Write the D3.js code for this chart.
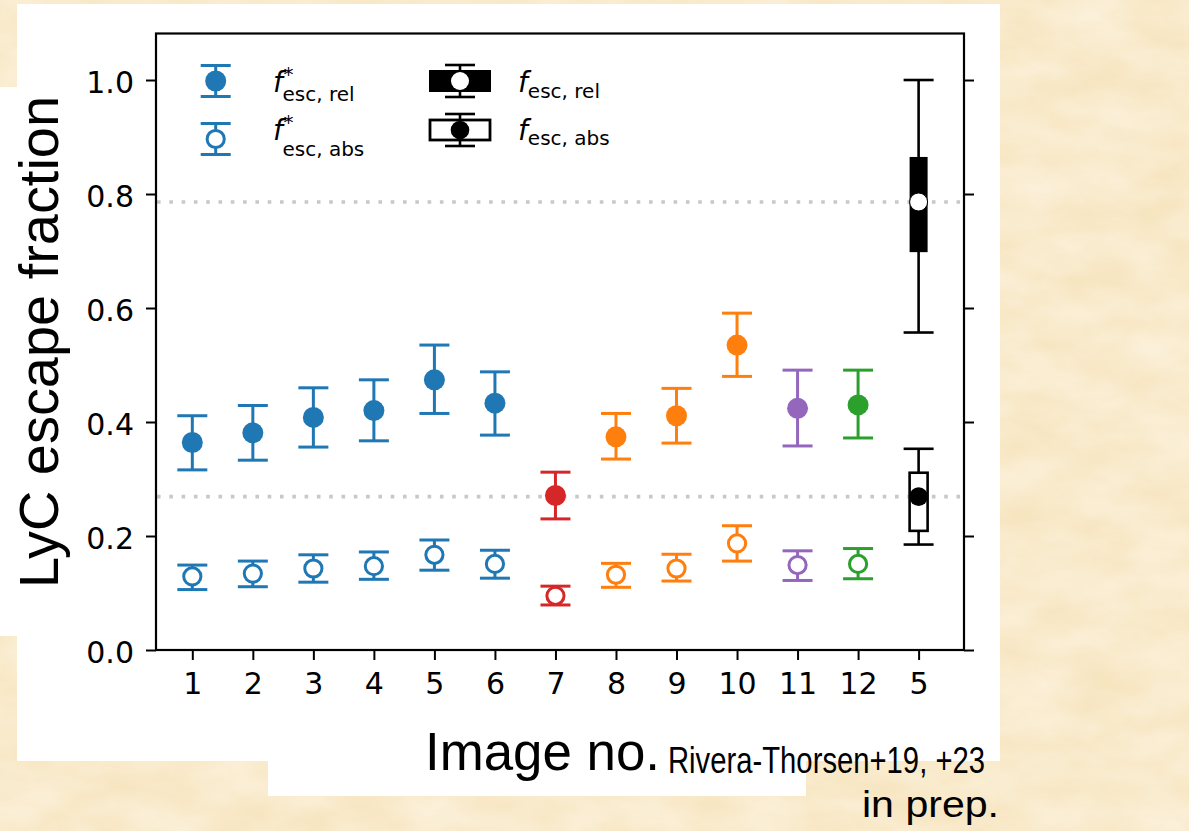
<!DOCTYPE html>
<html>
<head>
<meta charset="utf-8">
<script src="https://cdn.jsdelivr.net/npm/d3@7"></script>
<style>
  html, body { margin: 0; padding: 0; background: #f8e8c6; }
  svg { display: block; }
</style>
</head>
<body>
<div id="chart"></div>
<script>
// ---------------- data ----------------
const tickLabels = ["1", "2", "3", "4", "5", "6", "7", "8", "9", "10", "11", "12", "5"];
const pointColors = ["#1f77b4", "#1f77b4", "#1f77b4", "#1f77b4", "#1f77b4", "#1f77b4",
                     "#d62728", "#ff7f0e", "#ff7f0e", "#ff7f0e", "#9467bd", "#2ca02c"];
// f*_esc,rel (filled markers) with lower / upper error bounds
const relVal  = [0.364, 0.381, 0.408, 0.420, 0.474, 0.433, 0.271, 0.374, 0.411, 0.535, 0.424, 0.430];
const relLow  = [0.316, 0.333, 0.356, 0.367, 0.415, 0.377, 0.230, 0.335, 0.363, 0.480, 0.358, 0.372];
const relHigh = [0.411, 0.429, 0.460, 0.474, 0.535, 0.488, 0.312, 0.415, 0.459, 0.591, 0.491, 0.491];
// f*_esc,abs (open markers)
const absVal  = [0.129, 0.134, 0.143, 0.147, 0.167, 0.151, 0.095, 0.132, 0.143, 0.187, 0.149, 0.151];
const absLow  = [0.106, 0.111, 0.119, 0.124, 0.140, 0.126, 0.079, 0.110, 0.121, 0.156, 0.122, 0.125];
const absHigh = [0.149, 0.156, 0.167, 0.172, 0.193, 0.175, 0.112, 0.152, 0.168, 0.218, 0.174, 0.178];
// Rivera-Thorsen boxes (position 12): [whisker low, q1, median, q3, whisker high]
const boxRel = [0.557, 0.698, 0.786, 0.865, 1.000];
const boxAbs = [0.185, 0.209, 0.269, 0.311, 0.353];
const refLines = [0.786, 0.269];
const yTicks = [0.0, 0.2, 0.4, 0.6, 0.8, 1.0];

// ---------------- setup ----------------
const W = 1189, H = 831;
const svg = d3.select("#chart").append("svg").attr("width", W).attr("height", H);

// parchment background
const defs = svg.append("defs");
const f = defs.append("filter").attr("id", "paper").attr("x", 0).attr("y", 0).attr("width", "100%").attr("height", "100%");
f.append("feTurbulence").attr("type", "fractalNoise").attr("baseFrequency", "0.015 0.03").attr("numOctaves", 4).attr("seed", 7);
f.append("feColorMatrix").attr("type", "matrix")
  .attr("values", "0 0 0 0 1  0 0 0 0 0.97  0 0 0 0 0.90  0.7 0 0 0 -0.12");
svg.append("rect").attr("width", W).attr("height", H).attr("fill", "#f7e5c0");
svg.append("rect").attr("width", W).attr("height", H).attr("filter", "url(#paper)");

// white panels
const panels = [[17, 4, 983, 757], [0, 87, 17, 549], [268, 761, 538, 35]];
svg.selectAll("rect.panel").data(panels).enter().append("rect").attr("class", "panel")
  .attr("x", d => d[0]).attr("y", d => d[1]).attr("width", d => d[2]).attr("height", d => d[3])
  .attr("fill", "#ffffff");

const L = 156, R = 964, T = 33.5, B = 650;
const x = d3.scaleLinear().domain([-0.6, 12.75]).range([L, R]);
const y = d3.scaleLinear().domain([0, 1.0816]).range([B, T]);

const g = svg.append("g");

// reference dotted lines
g.selectAll("line.ref").data(refLines).enter().append("line")
  .attr("x1", L + 1).attr("x2", R - 1).attr("y1", d => y(d)).attr("y2", d => y(d))
  .attr("stroke", "#c8c8c8").attr("stroke-width", 3.6).attr("stroke-dasharray", "3.6 8.7");

// error bars
const capW = 15, lw = 3;
function errbar(sel, xi, lo, hi, color, width) {
  sel.append("line").attr("x1", x(xi)).attr("x2", x(xi)).attr("y1", y(lo)).attr("y2", y(hi))
    .attr("stroke", color).attr("stroke-width", width);
  [lo, hi].forEach(v => sel.append("line")
    .attr("x1", x(xi) - capW).attr("x2", x(xi) + capW).attr("y1", y(v)).attr("y2", y(v))
    .attr("stroke", color).attr("stroke-width", width));
}
relVal.forEach((v, i) => {
  const c = pointColors[i];
  errbar(g, i, relLow[i], relHigh[i], c, lw);
  g.append("circle").attr("cx", x(i)).attr("cy", y(v)).attr("r", 10.5).attr("fill", c);
  errbar(g, i, absLow[i], absHigh[i], c, lw);
  g.append("circle").attr("cx", x(i)).attr("cy", y(absVal[i])).attr("r", 8.6)
    .attr("fill", "#ffffff").attr("stroke", c).attr("stroke-width", 3);
});

// boxes at position 12
const bx = 12, bw = 18;
errbar(g, bx, boxRel[0], boxRel[4], "#000", 2.6);
g.append("rect").attr("x", x(bx) - bw / 2).attr("width", bw)
  .attr("y", y(boxRel[3])).attr("height", y(boxRel[1]) - y(boxRel[3])).attr("fill", "#000");
g.append("circle").attr("cx", x(bx)).attr("cy", y(boxRel[2])).attr("r", 9)
  .attr("fill", "#fff").attr("stroke", "#000").attr("stroke-width", 1);
errbar(g, bx, boxAbs[0], boxAbs[4], "#000", 2.6);
g.append("rect").attr("x", x(bx) - bw / 2).attr("width", bw)
  .attr("y", y(boxAbs[3])).attr("height", y(boxAbs[1]) - y(boxAbs[3]))
  .attr("fill", "#fff").attr("stroke", "#000").attr("stroke-width", 2.6);
g.append("circle").attr("cx", x(bx)).attr("cy", y(boxAbs[2])).attr("r", 9.3).attr("fill", "#000");

// axes
const fontTick = "'DejaVu Sans', sans-serif";
const xAxis = d3.axisBottom(x).tickValues(d3.range(tickLabels.length)).tickFormat(i => tickLabels[i])
  .tickSize(10).tickPadding(12.7);
const yAxisL = d3.axisLeft(y).tickValues(yTicks).tickFormat(d3.format(".1f")).tickSize(10).tickPadding(12);
const yAxisR = d3.axisRight(y).tickValues(yTicks).tickFormat("").tickSize(10);
function styleAxis(a) {
  a.select(".domain").remove();
  a.selectAll(".tick line").attr("stroke", "#000").attr("stroke-width", 2);
  a.selectAll(".tick text").attr("font-family", fontTick).attr("font-size", 30).attr("fill", "#000");
}
const ax = svg.append("g").attr("transform", `translate(0,${B})`).call(xAxis); styleAxis(ax);
const ayl = svg.append("g").attr("transform", `translate(${L},0)`).call(yAxisL); styleAxis(ayl);
ayl.selectAll(".tick text").attr("dy", "0.40em");
const ayr = svg.append("g").attr("transform", `translate(${R},0)`).call(yAxisR); styleAxis(ayr);

svg.append("rect").attr("x", L).attr("y", T).attr("width", R - L).attr("height", B - T)
  .attr("fill", "none").attr("stroke", "#000").attr("stroke-width", 2.2);

// legend
const lg = svg.append("g");
function legendErr(cx, cy, color, filled) {
  lg.append("line").attr("x1", cx).attr("x2", cx).attr("y1", cy - 15.5).attr("y2", cy + 15.5)
    .attr("stroke", color).attr("stroke-width", lw);
  [-15.5, 15.5].forEach(o => lg.append("line").attr("x1", cx - capW).attr("x2", cx + capW)
    .attr("y1", cy + o).attr("y2", cy + o).attr("stroke", color).attr("stroke-width", lw));
  if (filled) lg.append("circle").attr("cx", cx).attr("cy", cy).attr("r", 10.5).attr("fill", color);
  else lg.append("circle").attr("cx", cx).attr("cy", cy).attr("r", 8.6).attr("fill", "#fff")
    .attr("stroke", color).attr("stroke-width", 3);
}
legendErr(215.7, 81, "#1f77b4", true);
legendErr(215.7, 139, "#1f77b4", false);
function legendBox(cx, cy, filled) {
  lg.append("line").attr("x1", cx).attr("x2", cx).attr("y1", cy - 16).attr("y2", cy + 16)
    .attr("stroke", "#000").attr("stroke-width", 2.6);
  [-16, 16].forEach(o => lg.append("line").attr("x1", cx - capW).attr("x2", cx + capW)
    .attr("y1", cy + o).attr("y2", cy + o).attr("stroke", "#000").attr("stroke-width", 2.6));
  if (filled) {
    lg.append("rect").attr("x", cx - 31).attr("y", cy - 11).attr("width", 62).attr("height", 22).attr("fill", "#000");
    lg.append("circle").attr("cx", cx).attr("cy", cy).attr("r", 9).attr("fill", "#fff");
  } else {
    lg.append("rect").attr("x", cx - 30).attr("y", cy - 10).attr("width", 60).attr("height", 20)
      .attr("fill", "#fff").attr("stroke", "#000").attr("stroke-width", 2.8);
    lg.append("circle").attr("cx", cx).attr("cy", cy).attr("r", 9.3).attr("fill", "#000");
  }
}
legendBox(460, 81, true);
legendBox(460, 130, false);

// one text element per label: italic f, optional superscript *, subscript
function legendLabel(x0, yf, ysub, sub, star) {
  const t = lg.append("text").attr("x", x0).attr("y", yf)
    .attr("font-family", fontTick).attr("fill", "#000").attr("font-size", 28);
  t.append("tspan").attr("font-style", "italic").text("f");
  if (star) {
    t.append("tspan").attr("font-size", 20).attr("dx", 0.6).attr("dy", -11).text("*");
    t.append("tspan").attr("font-size", 20).attr("dx", -11).attr("dy", ysub - (yf - 11)).text(sub);
  } else {
    t.append("tspan").attr("font-size", 20).attr("dy", ysub - yf).text(sub);
  }
}
legendLabel(273, 91.5, 100.5, "esc, rel", true);
legendLabel(273, 140, 156, "esc, abs", true);
legendLabel(518, 92, 97.5, "esc, rel", false);
legendLabel(518, 140, 144.5, "esc, abs", false);

// slide labels
const slideFont = "'Liberation Sans', Arial, sans-serif";
svg.append("text").attr("transform", "translate(58,342) rotate(-90)").attr("text-anchor", "middle")
  .attr("font-family", slideFont).attr("font-size", 55).attr("fill", "#000")
  .attr("textLength", 492).attr("lengthAdjust", "spacingAndGlyphs").text("LyC escape fraction");
svg.append("text").attr("x", 425).attr("y", 770).attr("font-family", slideFont).attr("font-size", 53)
  .attr("textLength", 235).attr("lengthAdjust", "spacingAndGlyphs").attr("fill", "#000").text("Image no.");
svg.append("text").attr("x", 668).attr("y", 773).attr("font-family", slideFont).attr("font-size", 37)
  .attr("textLength", 317).attr("lengthAdjust", "spacingAndGlyphs").attr("fill", "#000").text("Rivera-Thorsen+19, +23");
svg.append("text").attr("x", 862).attr("y", 817).attr("font-family", slideFont).attr("font-size", 37)
  .attr("textLength", 137).attr("lengthAdjust", "spacingAndGlyphs").attr("fill", "#000").text("in prep.");
</script>
</body>
</html>
